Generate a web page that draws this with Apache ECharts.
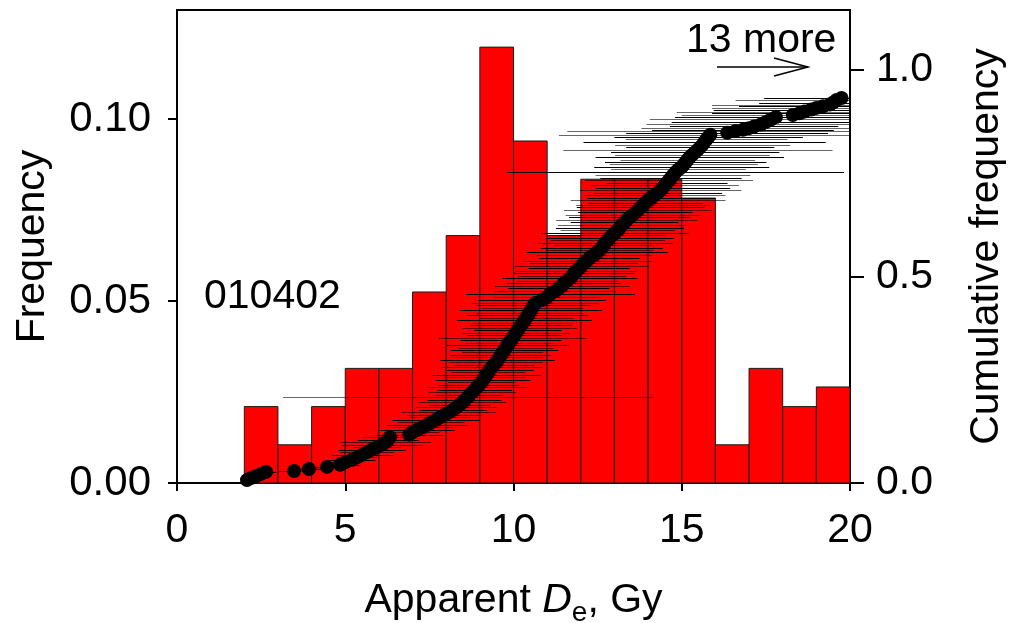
<!DOCTYPE html>
<html>
<head>
<meta charset="utf-8">
<script src="https://cdn.jsdelivr.net/npm/echarts@6/dist/echarts.min.js"></script>
<style>
  html, body { margin: 0; padding: 0; background: #fff; }
  #chart { width: 1009px; height: 623px; }
</style>
</head>
<body>
<div id="chart"></div>
<script>
// histogram: 1 Gy bins from 2 to 20
var binEdges = [2, 3, 4, 5, 6, 7, 8, 9, 10, 11, 12, 13, 14, 15, 16, 17, 18, 19, 20]
var binFreq = [0.021, 0.0105, 0.021, 0.0315, 0.0315, 0.0525, 0.068, 0.1198, 0.094,
  0.068, 0.0835, 0.0835, 0.0835, 0.0783, 0.0105, 0.0315, 0.021, 0.0264]

// individual aliquots: apparent De, cumulative frequency, error (+/- Gy)
var deValues = [2.08, 2.2, 2.35, 2.5, 2.65, 3.48, 3.92, 4.46, 4.85, 5.0,
  5.2, 5.35, 5.5, 5.65, 5.8, 5.95, 6.1, 6.2, 6.28, 6.33,
  6.9, 7.0, 7.15, 7.3, 7.45, 7.55, 7.7, 7.82, 7.95, 8.08,
  8.2, 8.3, 8.4, 8.48, 8.55, 8.65, 8.7, 8.78, 8.85, 8.92,
  8.98, 9.05, 9.1, 9.15, 9.2, 9.25, 9.3, 9.35, 9.42, 9.48,
  9.53, 9.58, 9.63, 9.68, 9.73, 9.78, 9.83, 9.88, 9.93, 9.98,
  10.03, 10.08, 10.13, 10.18, 10.23, 10.28, 10.33, 10.38, 10.43, 10.48,
  10.52, 10.56, 10.6, 10.65, 10.85, 11.0, 11.1, 11.25, 11.35, 11.45,
  11.5, 11.6, 11.68, 11.75, 11.8, 11.88, 11.95, 12.02, 12.1, 12.18,
  12.26, 12.4, 12.48, 12.56, 12.63, 12.68, 12.73, 12.8, 12.86, 12.95,
  13.02, 13.1, 13.16, 13.22, 13.3, 13.37, 13.45, 13.55, 13.62, 13.7,
  13.78, 13.86, 13.93, 14.0, 14.1, 14.2, 14.3, 14.37, 14.44, 14.5,
  14.56, 14.62, 14.68, 14.74, 14.82, 14.9, 15.0, 15.06, 15.12, 15.18,
  15.24, 15.32, 15.4, 15.48, 15.55, 15.62, 15.68, 15.74, 15.8, 15.85,
  16.35, 16.6, 16.82, 17.0, 17.15, 17.35, 17.5, 17.65, 17.8, 18.3,
  18.5, 18.65, 18.85, 19.0, 19.2, 19.4, 19.5, 19.6, 19.75]
var cumValues = [0.007, 0.012, 0.017, 0.022, 0.027, 0.029, 0.034, 0.039, 0.044, 0.05,
  0.056, 0.062, 0.068, 0.075, 0.081, 0.087, 0.093, 0.099, 0.105, 0.111,
  0.117, 0.123, 0.129, 0.135, 0.141, 0.147, 0.153, 0.159, 0.165, 0.171,
  0.177, 0.183, 0.189, 0.195, 0.201, 0.208, 0.214, 0.22, 0.226, 0.232,
  0.238, 0.244, 0.25, 0.256, 0.262, 0.268, 0.274, 0.28, 0.286, 0.292,
  0.298, 0.304, 0.31, 0.316, 0.322, 0.328, 0.334, 0.34, 0.346, 0.352,
  0.358, 0.364, 0.37, 0.376, 0.382, 0.388, 0.394, 0.4, 0.406, 0.412,
  0.418, 0.424, 0.43, 0.436, 0.443, 0.45, 0.458, 0.465, 0.472, 0.478,
  0.484, 0.49, 0.496, 0.502, 0.508, 0.514, 0.52, 0.526, 0.532, 0.538,
  0.545, 0.552, 0.558, 0.564, 0.57, 0.576, 0.582, 0.588, 0.594, 0.6,
  0.606, 0.612, 0.618, 0.625, 0.631, 0.637, 0.643, 0.649, 0.655, 0.661,
  0.667, 0.673, 0.679, 0.685, 0.691, 0.697, 0.703, 0.709, 0.715, 0.721,
  0.727, 0.733, 0.739, 0.745, 0.753, 0.759, 0.765, 0.771, 0.777, 0.783,
  0.789, 0.795, 0.801, 0.807, 0.813, 0.819, 0.826, 0.832, 0.838, 0.843,
  0.848, 0.852, 0.855, 0.859, 0.863, 0.868, 0.874, 0.88, 0.886, 0.891,
  0.895, 0.899, 0.904, 0.908, 0.912, 0.916, 0.921, 0.927, 0.932]
var errValues = [0.15, 0.2, 0.2, 0.25, 0.3, 0.5, 0.35, 0.4, 0.6, 0.5,
  0.7, 0.6, 0.9, 0.8, 1.0, 0.7, 1.2, 1.35, 0.9, 0.8,
  1.0, 0.8, 1.1, 0.9, 1.2, 1.0, 1.3, 0.9, 1.1, 1.4,
  1.0, 1.2, 0.9, 1.3, 1.1, 5.5, 1.0, 1.3, 1.1, 1.5,
  1.2, 1.0, 1.4, 1.2, 1.6, 1.1, 1.3, 1.5, 1.2, 1.4,
  1.7, 1.3, 1.5, 1.2, 1.6, 1.4, 1.8, 1.3, 1.5, 2.2,
  1.4, 1.6, 1.3, 1.7, 1.5, 1.5, 2.0, 1.4, 1.8, 1.6,
  2.1, 1.5, 1.7, 1.9, 1.9, 1.6, 2.5, 1.8, 1.5, 2.0,
  1.7, 1.5, 2.0, 1.6, 1.8, 1.8, 1.5, 2.0, 1.6, 1.9,
  1.5, 1.7, 2.1, 1.6, 1.8, 1.5, 2.0, 1.7, 1.9, 1.6,
  2.2, 1.7, 1.9, 1.9, 1.6, 2.1, 1.8, 2.0, 1.7, 2.2,
  1.9, 2.0, 1.7, 2.3, 1.9, 2.1, 1.9, 2.4, 2.0, 2.2,
  1.8, 2.5, 2.1, 2.3, 5.0, 2.0, 2.6, 2.2, 2.4, 2.0,
  2.8, 2.3, 2.5, 4.0, 2.2, 2.6, 3.6, 2.4, 2.8, 4.5,
  3.0, 5.0, 2.7, 3.2, 2.5, 3.4, 2.8, 3.6, 3.0, 3.3,
  2.6, 3.8, 2.9, 3.1, 2.5, 3.5, 2.2, 3.0, 2.3]

var freqTicks = [0, 0.05, 0.10]
var cumTicks = [0, 0.5, 1.0]

var font = 'Liberation Sans, Arial, sans-serif'
var chart = echarts.init(document.getElementById('chart'))

var bins = binFreq.map(function (f, i) { return [binEdges[i], binEdges[i + 1], f] })
var points = deValues.map(function (d, i) { return [d, cumValues[i], errValues[i]] })

chart.setOption({
  animation: false,
  textStyle: { fontFamily: font },
  grid: {
    left: 177, right: 159, top: 10, bottom: 140,
    outerBoundsMode: 'none',
    containLabel: false,
    show: true, borderColor: '#000', borderWidth: 2, backgroundColor: 'transparent'
  },
  xAxis: {
    type: 'value',
    min: 0,
    max: 20,
    interval: 5,
    axisLine: { lineStyle: { color: '#000', width: 2 } },
    axisTick: { length: 8, lineStyle: { color: '#000', width: 2 } },
    axisLabel: { color: '#000', fontSize: 41, margin: 27, fontFamily: font },
    splitLine: { show: false },
    name: '{a|Apparent }{i|D}{s|e}{a|, Gy}',
    nameLocation: 'middle',
    nameGap: 92,
    nameTextStyle: {
      rich: {
        a: { fontSize: 41, fontFamily: font, color: '#000' },
        i: { fontSize: 41, fontFamily: font, color: '#000', fontStyle: 'italic' },
        s: { fontSize: 28, fontFamily: font, color: '#000', padding: [24, 0, 0, 0] }
      }
    }
  },
  yAxis: [{
    type: 'value',
    min: 0,
    max: 0.13,
    position: 'left',
    axisLine: { show: true, lineStyle: { color: '#000', width: 2 } },
    axisTick: { show: true, length: 9, customValues: freqTicks, lineStyle: { color: '#000', width: 2 } },
    axisLabel: {
      color: '#000', fontSize: 42, margin: 26, fontFamily: font,
      customValues: freqTicks,
      formatter: function (v) { return v.toFixed(2) }
    },
    splitLine: { show: false },
    name: 'Frequency',
    nameLocation: 'middle',
    nameRotate: 90,
    nameGap: 124,
    nameTextStyle: { color: '#000', fontSize: 41, fontFamily: font }
  }, {
    type: 'value',
    min: 0,
    max: 1.145,
    position: 'right',
    axisLine: { show: true, lineStyle: { color: '#000', width: 2 } },
    axisTick: { show: true, length: 14, customValues: cumTicks, lineStyle: { color: '#000', width: 2 } },
    axisLabel: {
      color: '#000', fontSize: 41, margin: 26, fontFamily: font,
      customValues: cumTicks,
      formatter: function (v) { return v.toFixed(1) }
    },
    splitLine: { show: false },
    name: 'Cumulative frequency',
    nameLocation: 'middle',
    nameRotate: 90,
    nameGap: 116,
    nameTextStyle: { color: '#000', fontSize: 41, fontFamily: font }
  }],
  graphic: [
    { type: 'text', left: 204, top: 276, style: { text: '010402', font: '41px ' + font, fill: '#000' } },
    { type: 'text', left: 686, top: 20, style: { text: '13 more', font: '41px ' + font, fill: '#000' } },
    { type: 'line', shape: { x1: 717, y1: 67, x2: 808, y2: 67 }, style: { stroke: '#000', lineWidth: 1.5 } },
    { type: 'polyline', shape: { points: [[774, 58], [808, 67], [774, 76]] }, style: { stroke: '#000', lineWidth: 1.5, fill: null } }
  ],
  series: [{
    name: 'histogram',
    type: 'custom',
    yAxisIndex: 0,
    data: bins,
    encode: { x: [0, 1], y: 2 },
    z: 1,
    renderItem: function (params, api) {
      var p0 = api.coord([api.value(0), api.value(2)])
      var p1 = api.coord([api.value(1), 0])
      return {
        type: 'rect',
        shape: { x: p0[0], y: p0[1], width: p1[0] - p0[0], height: p1[1] - p0[1] },
        style: { fill: '#ff0000', stroke: '#1a1a1a', lineWidth: 1 }
      }
    }
  }, {
    name: 'errors',
    type: 'custom',
    yAxisIndex: 1,
    data: points,
    encode: { x: 0, y: 1 },
    z: 2,
    renderItem: function (params, api) {
      var x = api.value(0)
      var e = api.value(2)
      var a = api.coord([Math.max(0, x - e), api.value(1)])
      var b = api.coord([Math.min(20, x + e), api.value(1)])
      var y = Math.round(a[1]) + 0.5
      return {
        type: 'line',
        shape: { x1: a[0], y1: y, x2: b[0], y2: y },
        style: { stroke: params.dataIndex % 2 ? 'rgba(0,0,0,0.6)' : '#000', lineWidth: 1.2 }
      }
    }
  }, {
    name: 'cumulative',
    type: 'scatter',
    yAxisIndex: 1,
    data: points,
    symbol: 'circle',
    symbolSize: 14,
    itemStyle: { color: '#000', opacity: 1 },
    z: 3
  }]
})
</script>
</body>
</html>
